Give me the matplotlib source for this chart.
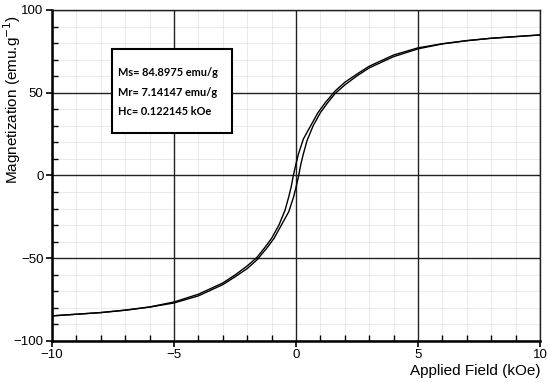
import matplotlib.pyplot as plt
from matplotlib.patches import Rectangle
from matplotlib.ticker import MultipleLocator

plt.rcParams['font.family'] = ['Liberation Sans', 'DejaVu Sans']

# descending branch (+10 kOe -> -10 kOe)
h_down = [10, 9, 8, 7, 6, 5, 4, 3, 2.5, 2, 1.6, 1.2, 0.9, 0.6, 0.3, 0.1, 0,
          -0.11, -0.2, -0.3, -0.45, -0.7, -1.0, -1.3, -1.6, -2, -2.5, -3,
          -4, -5, -6, -7, -8, -9, -10]
m_down = [84.9, 83.9, 82.9, 81.5, 79.6, 77.1, 72.8, 66.0, 61.3, 56.3, 51, 44,
          38, 30, 22, 13, 7.1, 0, -7, -13, -21, -30, -38, -44, -49.5, -54.7,
          -60.2, -65, -71.8, -76.5, -79.5, -81.4, -82.9, -83.9, -84.9]

# ascending branch (-10 kOe -> +10 kOe)
h_up = [-10, -9, -8, -7, -6, -5, -4, -3, -2.5, -2, -1.6, -1.2, -0.9, -0.6,
        -0.3, -0.1, 0, 0.11, 0.2, 0.3, 0.45, 0.7, 1.0, 1.3, 1.6, 2, 2.5, 3,
        4, 5, 6, 7, 8, 9, 10]
m_up = [-84.9, -83.9, -82.9, -81.5, -79.6, -77.1, -72.8, -66.0, -61.3, -56.3,
        -51, -44, -38, -30, -22, -13, -7.1, 0, 7, 13, 21, 30, 38, 44, 49.5,
        54.7, 60.2, 65, 71.8, 76.5, 79.5, 81.4, 82.9, 83.9, 84.9]

x_major = [-10, -5, 0, 5, 10]
y_major = [-100, -50, 0, 50, 100]

info = ['Ms= 84.8975 emu/g', 'Mr= 7.14147 emu/g', 'Hc= 0.122145 kOe']

fig = plt.figure(figsize=(5.5, 3.83), dpi=100)
ax = fig.add_axes([0.0945, 0.110, 0.8875, 0.864])

ax.set_xlim(-10, 10)
ax.set_ylim(-100, 100)
ax.set_xticks(x_major)
ax.set_yticks(y_major)
ax.xaxis.set_minor_locator(MultipleLocator(1))
ax.yaxis.set_minor_locator(MultipleLocator(10))

# light minor grid, dark major grid on top of it
ax.grid(which='minor', color='#e6e6e6', lw=0.6)
ax.set_axisbelow(True)
for v in x_major:
    ax.axvline(v, color='#222222', lw=1.0, zorder=1)
for v in y_major:
    ax.axhline(v, color='#222222', lw=1.0, zorder=1)

ax.plot(h_down, m_down, color='black', lw=1.0, zorder=3)
ax.plot(h_up, m_up, color='black', lw=1.0, zorder=3)

ax.tick_params(which='major', direction='out', length=4, width=1.2,
               labelsize=9.5, pad=2)
ax.tick_params(which='minor', direction='in', length=4, width=1.0)

for s in ['left', 'bottom']:
    ax.spines[s].set_linewidth(1.8)
for s in ['top', 'right']:
    ax.spines[s].set_linewidth(1.0)
    ax.spines[s].set_color('#222222')

ax.set_xlabel('Applied Field (kOe)', fontsize=11, loc='right', labelpad=2)
fig.text(0.023, 0.962, 'Magnetization (emu.g$^{-1}$)', fontsize=11,
         rotation=90, ha='center', va='top')

box = Rectangle((0.123, 0.627), 0.246, 0.254, transform=ax.transAxes,
                facecolor='white', edgecolor='black', lw=1.5, zorder=5)
ax.add_patch(box)
for i, t in enumerate(info):
    ax.text(0.135, 0.81 - i * 0.058, t, transform=ax.transAxes,
            fontsize=7.9, fontweight='bold', family=['Lato', 'DejaVu Sans'],
            va='center', zorder=6)

fig.savefig('out.png', dpi=100)
